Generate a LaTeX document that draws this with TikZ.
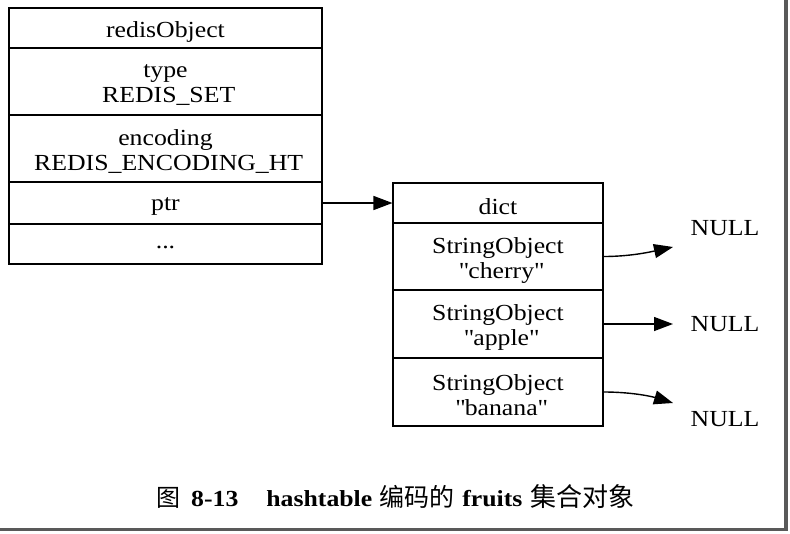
\documentclass[tikz,border=0pt]{standalone}
\usepackage{fontspec}
\setmainfont{Liberation Serif}[FakeStretch=1.12]
\newfontfamily\cjk{Noto Sans CJK SC}
\usetikzlibrary{arrows.meta}
\newcommand{\qq}[1]{\textquotedbl#1\textquotedbl}
\begin{document}
\begin{tikzpicture}[x=1pt,y=-1pt,
  cell/.style={draw, line width=1.1pt, inner sep=0pt},
  txt/.style={inner sep=0pt, align=center, yshift=-3.5pt,
    font=\fontsize{23}{25}\selectfont},
  lbl/.style={inner sep=0pt, font=\fontsize{23}{25}\selectfont},
  arr/.style={line width=1.4pt, -{Triangle[length=19pt,width=14pt]}},
  shadow/.style={draw=black!65, line width=3.5pt}
]
\useasboundingbox (0,0) rectangle (790,533);
\fill[white] (0,0) rectangle (790,533);
% left structure
\node[cell, minimum width=313pt, minimum height=40pt] (robj) at (165.5,28) {};
\node[cell, minimum width=313pt, minimum height=67pt] (rtype) at (165.5,81.5) {};
\node[cell, minimum width=313pt, minimum height=67pt] (renc) at (165.5,148.5) {};
\node[cell, minimum width=313pt, minimum height=42pt] (rptr) at (165.5,203) {};
\node[cell, minimum width=313pt, minimum height=40pt] (rdots) at (165.5,244) {};
\node[txt] (robjT) at (robj) {redisObject};
\node[txt] (rtypeT) at (rtype) {type\\\ REDIS\_SET};
\node[txt] (rencT) at (renc) {encoding\\\ REDIS\_ENCODING\_HT};
\node[txt] (rptrT) at (rptr) {ptr};
\node[txt] (rdotsT) at (rdots) {...};
% dict
\node[cell, minimum width=210pt, minimum height=40pt] (dict) at (498,203) {};
\node[cell, minimum width=210pt, minimum height=67pt] (cherry) at (498,256.5) {};
\node[cell, minimum width=210pt, minimum height=68pt] (apple) at (498,324) {};
\node[cell, minimum width=210pt, minimum height=68pt] (banana) at (498,392) {};
\node[txt] (dictT) at (dict) {dict};
\node[txt] (cherryT) at (cherry) {StringObject\\\ \qq{cherry}};
\node[txt] (appleT) at (apple) {StringObject\\\ \qq{apple}};
\node[txt] (bananaT) at (banana) {StringObject\\\ \qq{banana}};
% NULL labels
\node[lbl] (null1) at (725,228) {NULL};
\node[lbl] (null2) at (725,324) {NULL};
\node[lbl] (null3) at (725,419) {NULL};
\coordinate (t1) at (673,247);
\coordinate (t2) at (673,324);
\coordinate (t3) at (673,403);
% connectors
\draw[arr] (rptr.east) -- (dict.west);
\draw[arr] (cherry.east) .. controls (630,256.5) and (650,252) .. (t1);
\draw[arr] (apple.east) -- (t2);
\draw[arr] (banana.east) .. controls (630,392) and (650,396) .. (t3);
% caption
\node[anchor=base west, inner sep=0pt, font=\fontsize{23}{25}\selectfont] (cap) at (156,506)
  {{\cjk\fontsize{24}{26}\selectfont 图}\hspace{11pt}\textbf{8-13}\hspace{28pt}\textbf{hashtable}\hspace{7pt}{\cjk\fontsize{25}{26}\selectfont 编码的}\hspace{8pt}\textbf{fruits}\hspace{8pt}{\cjk\fontsize{26}{26}\selectfont 集合对象}};
% screenshot shadow
\draw[shadow] (786,0) -- (786,529.5) -- (0,529.5);
\end{tikzpicture}
\end{document}
